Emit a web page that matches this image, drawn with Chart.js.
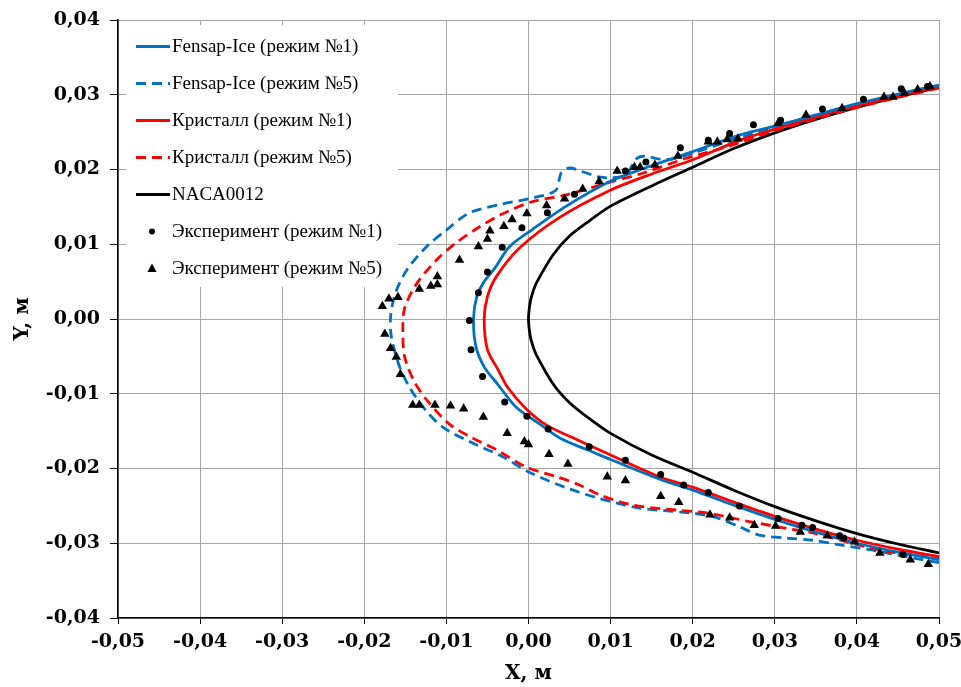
<!DOCTYPE html>
<html>
<head>
<meta charset="utf-8">
<script src="https://cdn.jsdelivr.net/npm/chart.js@4.4.1/dist/chart.umd.min.js"></script>
<style>
  body { margin: 0; background: #fff; }
  canvas { display: block; }
</style>
</head>
<body>
<canvas id="myChart" width="961" height="687"></canvas>
<script>
// контур профиля NACA0012
const nacaX = [0.05, 0.045, 0.04, 0.035, 0.03, 0.025, 0.02, 0.015, 0.01, 0.0075, 0.005, 0.003, 0.001, 0.0005, 0.0002, 0, 0.0002, 0.0005, 0.001, 0.003, 0.005, 0.0075, 0.01, 0.015, 0.02, 0.025, 0.03, 0.035, 0.04, 0.045, 0.05];
const nacaY = [0.0310, 0.0297, 0.0283, 0.0267, 0.0249, 0.0228, 0.0203, 0.0178, 0.0151, 0.0132, 0.0111, 0.0086, 0.0049, 0.0035, 0.0022, 0, -0.0022, -0.0035, -0.0049, -0.0087, -0.0112, -0.0134, -0.0153, -0.0182, -0.0205, -0.0229, -0.0251, -0.0270, -0.0287, -0.0301, -0.0313];

// Fensap-Ice, режим 1
const fensap1X = [0.05, 0.045, 0.04, 0.035, 0.03, 0.0257, 0.02, 0.0147, 0.0099, 0.0046, 0.0005, -0.0023, -0.0041, -0.0054, -0.0063, -0.0067, -0.0064, -0.0054, -0.0037, -0.0015, 0.0013, 0.0041, 0.0074, 0.0100, 0.0159, 0.02, 0.025, 0.03, 0.035, 0.04, 0.045, 0.05];
const fensap1Y = [0.0313, 0.0301, 0.0288, 0.0273, 0.0258, 0.0246, 0.0224, 0.0204, 0.0184, 0.0151, 0.0120, 0.0097, 0.0068, 0.0050, 0.0030, 0.0000, -0.0037, -0.0064, -0.0088, -0.0118, -0.0140, -0.0161, -0.0176, -0.0188, -0.0214, -0.0229, -0.0249, -0.0268, -0.0285, -0.0300, -0.0312, -0.0322];

// Fensap-Ice, режим 5
const fensap5X = [0.05, 0.045, 0.04, 0.035, 0.03, 0.025, 0.02, 0.0175, 0.0159, 0.0141, 0.0131, 0.0119, 0.0102, 0.0086, 0.0066, 0.0050, 0.0040, 0.0033, 0.0005, -0.0035, -0.0072, -0.0100, -0.0124, -0.0148, -0.0162, -0.0168, -0.0167, -0.0157, -0.0144, -0.0126, -0.0104, -0.0068, -0.0032, 0.0001, 0.0044, 0.0086, 0.0135, 0.0184, 0.0224, 0.0257, 0.0281, 0.0314, 0.0346, 0.0378, 0.0418, 0.0460, 0.0500];
const fensap5Y = [0.0310, 0.0298, 0.0285, 0.0271, 0.0256, 0.0240, 0.0222, 0.0214, 0.0214, 0.0218, 0.0214, 0.0193, 0.0189, 0.0190, 0.0197, 0.0202, 0.0196, 0.0172, 0.0162, 0.0153, 0.0142, 0.0119, 0.0097, 0.0066, 0.0035, 0.0003, -0.0024, -0.0064, -0.0093, -0.0121, -0.0145, -0.0166, -0.0184, -0.0205, -0.0225, -0.0240, -0.0253, -0.0258, -0.0264, -0.0278, -0.0289, -0.0293, -0.0296, -0.0302, -0.0309, -0.0318, -0.0326];

// Кристалл, режим 1
const kristall1X = [0.05, 0.045, 0.04, 0.035, 0.03, 0.0257, 0.02, 0.015, 0.0099, 0.0038, -0.0011, -0.0039, -0.0050, -0.0054, -0.0050, -0.0037, -0.0025, -0.0003, 0.0022, 0.0062, 0.0086, 0.0159, 0.02, 0.025, 0.03, 0.035, 0.04, 0.045, 0.05];
const kristall1Y = [0.0311, 0.0298, 0.0285, 0.0270, 0.0254, 0.0239, 0.0213, 0.0194, 0.0172, 0.0136, 0.0095, 0.0057, 0.0030, 0.0000, -0.0041, -0.0068, -0.0092, -0.0120, -0.0142, -0.0163, -0.0175, -0.0211, -0.0225, -0.0245, -0.0264, -0.0281, -0.0296, -0.0308, -0.0318];

// Кристалл, режим 5
const kristall5X = [0.05, 0.04, 0.03, 0.0241, 0.0192, 0.0139, 0.0099, 0.0046, 0.0005, -0.0033, -0.0060, -0.0088, -0.0112, -0.0137, -0.0151, -0.0153, -0.0151, -0.0139, -0.0122, -0.0096, -0.0072, -0.0039, -0.0003, 0.0034, 0.0062, 0.0086, 0.0127, 0.0184, 0.0220, 0.0269, 0.0314, 0.0346, 0.0394, 0.0436, 0.05];
const kristall5Y = [0.0309, 0.0283, 0.0252, 0.0230, 0.0215, 0.0195, 0.0183, 0.0166, 0.0157, 0.0140, 0.0123, 0.0102, 0.0079, 0.0046, 0.0014, -0.0015, -0.0050, -0.0084, -0.0111, -0.0141, -0.0157, -0.0175, -0.0198, -0.0211, -0.0222, -0.0235, -0.0249, -0.0256, -0.0260, -0.0271, -0.0280, -0.0286, -0.0300, -0.0311, -0.0320];

// эксперимент, режим 1
const exp1X = [0.0486, 0.0454, 0.0408, 0.0358, 0.0307, 0.0274, 0.0245, 0.0219, 0.0185, 0.0143, 0.0118, 0.0056, 0.0023, -0.0008, -0.0032, -0.0050, -0.0061, -0.0072, -0.0070, -0.0056, -0.0029, -0.0002, 0.0024, 0.0074, 0.0118, 0.0161, 0.0189, 0.0219, 0.0257, 0.0304, 0.0333, 0.0346, 0.0379, 0.0384, 0.0456];
const exp1Y = [0.0311, 0.0308, 0.0294, 0.0281, 0.0266, 0.0260, 0.0248, 0.0239, 0.0229, 0.0210, 0.0198, 0.0167, 0.0142, 0.0122, 0.0096, 0.0063, 0.0035, -0.0002, -0.0041, -0.0077, -0.0111, -0.0130, -0.0147, -0.0171, -0.0189, -0.0208, -0.0222, -0.0232, -0.0250, -0.0267, -0.0276, -0.0279, -0.0290, -0.0293, -0.0315];

// эксперимент, режим 5
const exp5X = [0.0489, 0.0474, 0.0458, 0.0444, 0.0433, 0.0382, 0.0338, 0.0304, 0.0255, 0.0242, 0.0230, 0.0219, 0.0182, 0.0154, 0.0136, 0.0129, 0.0108, 0.0086, 0.0066, 0.0044, 0.0022, -0.0002, -0.0020, -0.0030, -0.0047, -0.0050, -0.0061, -0.0084, -0.0111, -0.0111, -0.0119, -0.0133, -0.0159, -0.0170, -0.0178,
  -0.0175, -0.0168, -0.0161, -0.0156, -0.0141, -0.0133, -0.0114, -0.0095, -0.0079, -0.0055, -0.0026, -0.0005, 0.0000, 0.0025, 0.0048, 0.0096, 0.0118, 0.0161, 0.0183, 0.0221, 0.0245, 0.0275, 0.0301, 0.0331, 0.0364, 0.0397, 0.0428, 0.0465, 0.0487];
const exp5Y = [0.0311, 0.0307, 0.0302, 0.0297, 0.0297, 0.0282, 0.0273, 0.0262, 0.0241, 0.0240, 0.0237, 0.0237, 0.0218, 0.0206, 0.0203, 0.0203, 0.0198, 0.0184, 0.0174, 0.0161, 0.0152, 0.0141, 0.0133, 0.0124, 0.0118, 0.0107, 0.0097, 0.0079, 0.0057, 0.0046, 0.0044, 0.0040, 0.0029, 0.0027, 0.0017,
  -0.0020, -0.0039, -0.0051, -0.0074, -0.0115, -0.0115, -0.0115, -0.0116, -0.0120, -0.0131, -0.0153, -0.0164, -0.0168, -0.0181, -0.0194, -0.0211, -0.0216, -0.0237, -0.0245, -0.0262, -0.0266, -0.0276, -0.0277, -0.0285, -0.0290, -0.0298, -0.0313, -0.0322, -0.0328];

const xTicks = [-0.05, -0.04, -0.03, -0.02, -0.01, 0, 0.01, 0.02, 0.03, 0.04, 0.05];
const yTicks = [-0.04, -0.03, -0.02, -0.01, 0, 0.01, 0.02, 0.03, 0.04];

const zip = (xs, ys) => xs.map((x, i) => ({ x: x, y: ys[i] }));
const fmt = (v) => (Math.abs(v) < 1e-9 ? 0 : v).toFixed(2).replace(".", ",");

const BLUE = "#0070c0";
const RED = "#ff0000";
const DASH = [10, 6];

const curve = (label, xs, ys, color, dash, order) => ({
  label: label,
  data: zip(xs, ys),
  showLine: true,
  borderColor: color,
  backgroundColor: color,
  borderWidth: 2.8,
  borderDash: dash,
  pointRadius: 0,
  pointHoverRadius: 0,
  tension: 0.3,
  order: order,
});

// рамка легенды внутри поля графика
const boxLegend = {
  id: "boxLegend",
  beforeDatasetsDraw(chart) {
    const ctx = chart.ctx;
    ctx.save();
    ctx.fillStyle = "#fff";
    ctx.fillRect(126, 25, 272, 262);
    ctx.font = '19px "Liberation Serif"';
    ctx.textBaseline = "middle";
    ctx.fillStyle = "#000";
    chart.data.datasets.forEach((ds, i) => {
      const y = 46.5 + i * 37;
      if (ds.showLine) {
        ctx.strokeStyle = ds.borderColor;
        ctx.lineWidth = 2.8;
        ctx.setLineDash(ds.borderDash || []);
        ctx.beginPath();
        ctx.moveTo(136, y);
        ctx.lineTo(170, y);
        ctx.stroke();
        ctx.setLineDash([]);
      } else {
        ctx.fillStyle = "#000";
        ctx.beginPath();
        if (ds.pointStyle === "triangle") {
          ctx.moveTo(152, y - 5);
          ctx.lineTo(156.5, y + 3.5);
          ctx.lineTo(147.5, y + 3.5);
        } else {
          ctx.arc(152, y, 3, 0, Math.PI * 2);
        }
        ctx.fill();
      }
      ctx.fillStyle = "#000";
      ctx.fillText(ds.label, 172, y + 1);
    });
    ctx.restore();
  },
};

const axisFont = { family: "DejaVu Serif", size: 19, weight: "bold" };

new Chart(document.getElementById("myChart"), {
  type: "scatter",
  data: {
    datasets: [
      curve("Fensap-Ice (режим №1)", fensap1X, fensap1Y, BLUE, [], 2),
      curve("Fensap-Ice (режим №5)", fensap5X, fensap5Y, BLUE, DASH, 5),
      curve("Кристалл (режим №1)", kristall1X, kristall1Y, RED, [], 3),
      curve("Кристалл (режим №5)", kristall5X, kristall5Y, RED, DASH, 4),
      curve("NACA0012", nacaX, nacaY, "#000", [], 6),
      {
        label: "Эксперимент (режим №1)",
        data: zip(exp1X, exp1Y),
        pointStyle: "circle",
        pointRadius: 3.5,
        backgroundColor: "#000",
        borderColor: "#000",
        borderWidth: 0,
        order: 0,
      },
      {
        label: "Эксперимент (режим №5)",
        data: zip(exp5X, exp5Y),
        pointStyle: "triangle",
        pointRadius: 5.5,
        backgroundColor: "#000",
        borderColor: "#000",
        borderWidth: 0,
        order: 1,
      },
    ],
  },
  options: {
    responsive: false,
    animation: false,
    devicePixelRatio: 1,
    layout: { padding: { left: 0, top: 20, right: 22, bottom: 0 } },
    plugins: { legend: { display: false }, tooltip: { enabled: false } },
    scales: {
      x: {
        type: "linear",
        min: -0.05,
        max: 0.05,
        afterBuildTicks: (s) => { s.ticks = xTicks.map((v) => ({ value: v })); },
        afterFit: (s) => { s.height = 69; s.paddingLeft = 0; s.paddingRight = 0; },
        ticks: { color: "#000", font: axisFont, padding: 7, maxRotation: 0, callback: fmt },
        grid: { color: "#a6a6a6", tickColor: "#000", tickLength: 6, lineWidth: 1 },
        border: { color: "#000", width: 1.5 },
        title: { display: true, text: "X, м", color: "#000", font: { family: "DejaVu Serif", size: 20, weight: "bold" }, padding: { top: 0, bottom: 1 } },
      },
      y: {
        type: "linear",
        min: -0.04,
        max: 0.04,
        afterBuildTicks: (s) => { s.ticks = yTicks.map((v) => ({ value: v })); },
        afterFit: (s) => { s.width = 118; s.paddingTop = 0; s.paddingBottom = 0; },
        ticks: { color: "#000", font: axisFont, padding: 10, callback: fmt },
        grid: { color: "#a6a6a6", tickColor: "#000", tickLength: 8, lineWidth: 1 },
        border: { color: "#000", width: 1.5 },
        title: { display: true, text: "Y, м", color: "#000", font: { family: "DejaVu Serif", size: 20, weight: "bold" }, padding: { top: 11, bottom: 0 } },
      },
    },
  },
  plugins: [boxLegend],
});
</script>
</body>
</html>
